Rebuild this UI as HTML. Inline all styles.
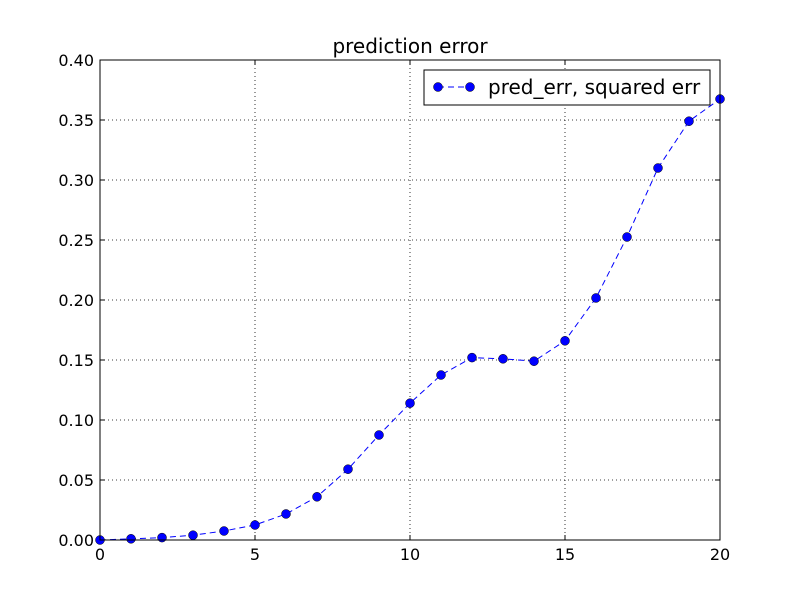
<!DOCTYPE html>
<html><head><meta charset="utf-8"><style>body{margin:0;background:#fff}svg{display:block}text{font-family:"DejaVu Sans","Liberation Sans",sans-serif}</style></head>
<body>
<svg id="chart" width="800" height="600" viewBox="0 0 800 600" xmlns="http://www.w3.org/2000/svg">
<rect width="800" height="600" fill="#fff"/>
<g id="grid"></g>
<g id="ticks"></g>
<g id="series"></g>
<rect x="100" y="60" width="620" height="480" fill="none" stroke="#000" stroke-width="1"/>
<text x="410" y="53" font-size="20" text-anchor="middle">prediction error</text>
<g>
<rect x="424" y="70" width="286" height="35" fill="#fff" stroke="#000" stroke-width="1"/>
<line x1="438" y1="87" x2="470" y2="87" stroke="#0000ff" stroke-dasharray="6,4"/>
<circle cx="438" cy="87" r="4.5" fill="#0000ff" stroke="#000" stroke-width="0.5"/>
<circle cx="470" cy="87" r="4.5" fill="#0000ff" stroke="#000" stroke-width="0.5"/>
<text x="488" y="94" font-size="20">pred_err, squared err</text>
</g>
</svg>
<script>
const xValues=[0,1,2,3,4,5,6,7,8,9,10,11,12,13,14,15,16,17,18,19,20];
const yValues=[0,0.001,0.002,0.004,0.0075,0.0125,0.0217,0.036,0.059,0.0875,0.114,0.1375,0.152,0.151,0.149,0.166,0.2017,0.2525,0.31,0.349,0.3675];
const xTicks=[0,5,10,15,20];
const yTicks=[0,0.05,0.1,0.15,0.2,0.25,0.3,0.35,0.4];
const NS="http://www.w3.org/2000/svg";
const L=100,R=720,T=60,B=540,xMin=0,xMax=20,yMin=0,yMax=0.4;
const sx=v=>L+(v-xMin)/(xMax-xMin)*(R-L);
const sy=v=>B-(v-yMin)/(yMax-yMin)*(B-T);
function mk(tag,attrs,parent){const e=document.createElementNS(NS,tag);for(const k in attrs)e.setAttribute(k,attrs[k]);parent.appendChild(e);return e;}
const grid=document.getElementById('grid'),ticks=document.getElementById('ticks'),ser=document.getElementById('series');
xTicks.forEach(v=>{const x=sx(v);
 const g=mk('line',{x1:x,y1:T,x2:x,y2:B,stroke:'#000','stroke-dasharray':'1,3','stroke-width':0.8},grid);
 
 
 mk('line',{x1:x,y1:B,x2:x,y2:B-5,stroke:'#000'},ticks);
 mk('line',{x1:x,y1:T,x2:x,y2:T+5,stroke:'#000'},ticks);
 const t=mk('text',{x:x,y:B+20,'font-size':16,'text-anchor':'middle'},ticks);t.textContent=v;
 
 
});
yTicks.forEach(v=>{const y=sy(v);
 const g=mk('line',{x1:L,y1:y,x2:R,y2:y,stroke:'#000','stroke-dasharray':'1,3','stroke-width':0.8},grid);
 
 
 mk('line',{x1:L,y1:y,x2:L+5,y2:y,stroke:'#000'},ticks);
 mk('line',{x1:R,y1:y,x2:R-5,y2:y,stroke:'#000'},ticks);
 const t=mk('text',{x:L-6,y:y+6,'font-size':16,'text-anchor':'end'},ticks);t.textContent=v.toFixed(2);
 
 
});
const pts=xValues.map((x,i)=>sx(x)+','+sy(yValues[i])).join(' ');
const pl=mk('polyline',{points:pts,fill:'none',stroke:'#0000ff','stroke-dasharray':'6,4','stroke-width':1},ser);


xValues.forEach((x,i)=>{const c=mk('circle',{cx:sx(x),cy:sy(yValues[i]),r:4.5,fill:'#0000ff',stroke:'#000','stroke-width':0.5},ser);
 
 
});
</script>
</body></html>
